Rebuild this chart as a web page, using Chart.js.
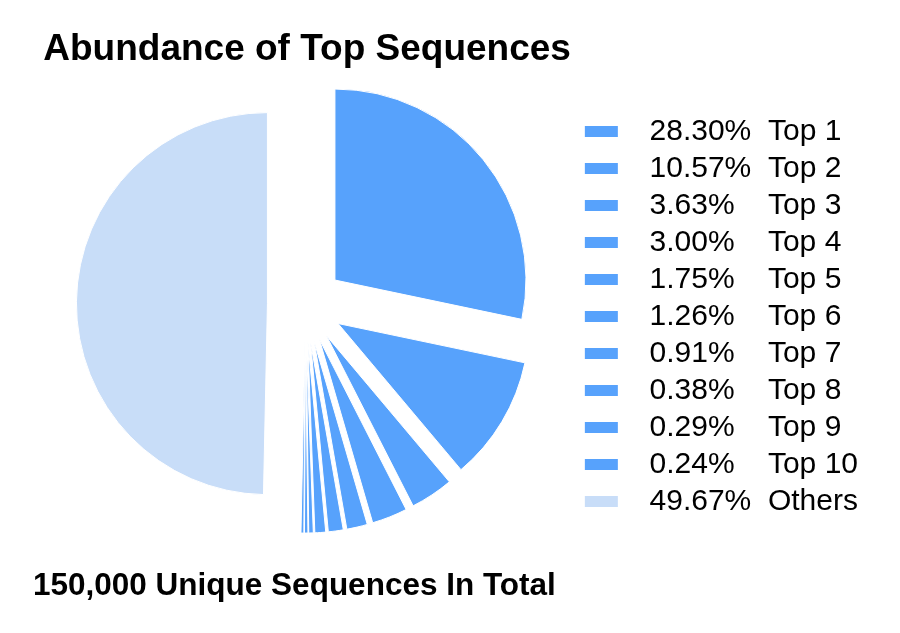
<!DOCTYPE html>
<html>
<head>
<meta charset="utf-8">
<title>Abundance of Top Sequences</title>
<script src="https://cdn.jsdelivr.net/npm/chart.js@4.4.1/dist/chart.umd.min.js"></script>
<style>
    html, body { margin: 0; padding: 0; background: #fff; }
    #wrap { position: relative; width: 900px; height: 633px; }
</style>
</head>
<body>
<div id="wrap"><canvas id="chart"></canvas></div>
<script>
// values
const categories = ['Top 1', 'Top 2', 'Top 3', 'Top 4', 'Top 5', 'Top 6', 'Top 7', 'Top 8', 'Top 9', 'Top 10', 'Others'];
const shares = [28.30, 10.57, 3.63, 3.00, 1.75, 1.26, 0.91, 0.38, 0.29, 0.24, 49.67];
const sliceColors = ['#57a2fc', '#57a2fc', '#57a2fc', '#57a2fc', '#57a2fc', '#57a2fc', '#57a2fc', '#57a2fc', '#57a2fc', '#57a2fc', '#c8ddf8'];

const pieRadius = 191;
const explode = 38; // px every slice is pulled out along its bisector

// Chart.js' own offset also trims and grows arcs; here each slice is only
// shifted along its bisector, like a classic exploded pie.
const evenExplode = {
    id: 'evenExplode',
    afterDatasetUpdate(chart, args) {
        args.meta.data.forEach((arc) => {
            arc.draw = function (ctx) {
                const mid = (this.startAngle + this.endAngle) / 2;
                ctx.save();
                ctx.translate(Math.cos(mid) * explode, Math.sin(mid) * explode);
                Chart.ArcElement.prototype.draw.call(this, ctx);
                ctx.restore();
            };
        });
    }
};

function legendText(i) {
    const pct = shares[i].toFixed(2) + '%';
    const gap = ' '.repeat(2 + 2 * (6 - pct.length));
    return '  ' + pct + gap + categories[i];
}

const fontFamily = "'Liberation Sans', Arial, sans-serif";

new Chart(document.getElementById('chart'), {
    type: 'pie',
    data: {
        labels: categories,
        datasets: [{
            data: shares,
            backgroundColor: sliceColors,
            borderColor: '#ffffff',
            borderWidth: 1,
            radius: pieRadius,
            clip: false,
        }],
    },
    plugins: [evenExplode],
    options: {
        responsive: true,
        maintainAspectRatio: false,
        animation: false,
        layout: { padding: { left: 33, right: 32, top: 0, bottom: 0 } },
        plugins: {
            title: {
                display: true,
                text: ' Abundance of Top Sequences',
                align: 'start',
                color: '#000',
                font: { family: fontFamily, size: 37, weight: 'bold' },
                padding: { top: 28, bottom: 0 },
            },
            subtitle: {
                display: true,
                position: 'bottom',
                text: '150,000 Unique Sequences In Total',
                align: 'start',
                color: '#000',
                font: { family: fontFamily, size: 31.5, weight: 'bold' },
                padding: { top: 31.6, bottom: 28 },
            },
            legend: {
                position: 'right',
                labels: {
                    color: '#000',
                    font: { family: fontFamily, size: 30 },
                    boxWidth: 33,
                    boxHeight: 11,
                    padding: 7,
                    generateLabels: () => categories.map((c, i) => ({
                        text: legendText(i),
                        fillStyle: sliceColors[i],
                        strokeStyle: sliceColors[i],
                        lineWidth: 0,
                        fontColor: '#000',
                        hidden: false,
                        index: i,
                    })),
                },
            },
            tooltip: { enabled: false },
        },
    },
});
</script>
</body>
</html>
